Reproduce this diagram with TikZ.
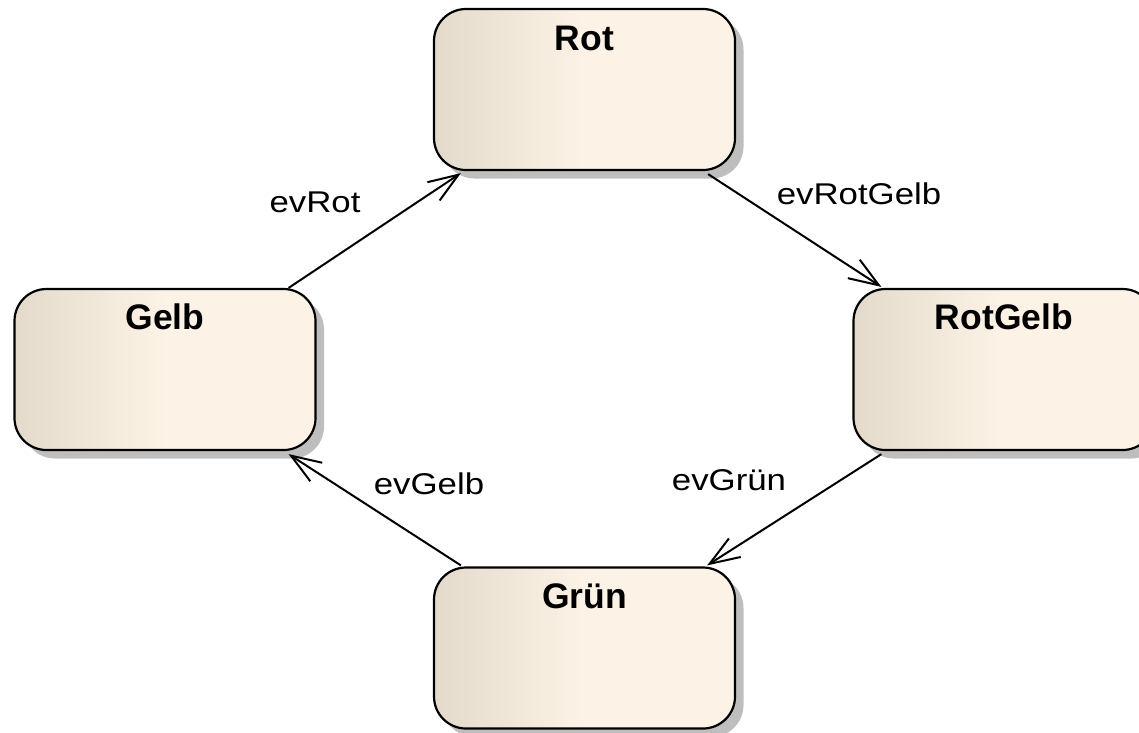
\documentclass[tikz,border=0pt]{standalone}
\usepackage{fontspec}
\setmainfont{Liberation Sans}
\newfontfamily\evfont{Liberation Sans}[FakeStretch=1.16]
\usetikzlibrary{arrows.meta,shadows}

\definecolor{stateL}{RGB}{228,218,203}
\definecolor{stateR}{RGB}{252,243,230}
\definecolor{shadowgray}{RGB}{190,190,190}

\begin{document}
\begin{tikzpicture}[x=1pt,y=-1pt,
  state/.style={rectangle, rounded corners=32pt, draw=black, line width=2.2pt,
    minimum width=301pt, minimum height=161pt, inner sep=0pt,
    left color=stateL, right color=stateR, middle color=stateR,
    drop shadow={shadow xshift=8.5pt, shadow yshift=-8.5pt, fill=shadowgray, opacity=1}},
  stitle/.style={font=\bfseries\fontsize{35.5}{42}\selectfont, inner sep=0pt, anchor=base},
  evlabel/.style={font=\evfont\fontsize{30}{36}\selectfont, inner sep=0pt, anchor=base},
  conn/.style={draw=black, line width=2pt, -{Straight Barb[length=30pt,width=22pt]}}]

\path[use as bounding box, clip] (0,0) rectangle (1139,732);

% states
\node[state] (rot)     at (584.5,89.5)  {};
\node[state] (gelb)    at (165,369.5)   {};
\node[state] (rotgelb) at (1004,369.5)  {};
\node[state] (gruen)   at (584.5,648)   {};

% state names
\node[stitle] (rottitle)     at ([yshift=-43pt]rot.north)     {Rot};
\node[stitle] (gelbtitle)    at ([yshift=-42pt]gelb.north)    {Gelb};
\node[stitle] (rotgelbtitle) at ([yshift=-42pt]rotgelb.north) {RotGelb};
\node[stitle] (gruentitle)   at ([yshift=-42pt]gruen.north)   {Grün};

% transitions
\draw[conn] ([xshift=-28pt]gelb.north east) -- ([xshift=28pt,yshift=-2pt]rot.south west);
\draw[conn] ([xshift=-28pt,yshift=-3pt]rot.south east) -- ([xshift=29pt,yshift=1pt]rotgelb.north west);
\draw[conn] ([xshift=29pt,yshift=-3pt]rotgelb.south west) -- ([xshift=-29pt,yshift=1pt]gruen.north east);
\draw[conn] ([xshift=28pt,yshift=1pt]gruen.north west) -- ([xshift=-28pt,yshift=-3pt]gelb.south east);

% event labels
\node[evlabel] (evrot)     at (315,212)   {evRot};
\node[evlabel] (evrotgelb) at (859,204)   {evRotGelb};
\node[evlabel] (evgruen)   at (729,490)   {evGrün};
\node[evlabel] (evgelb)    at (429,494)   {evGelb};
\end{tikzpicture}
\end{document}
